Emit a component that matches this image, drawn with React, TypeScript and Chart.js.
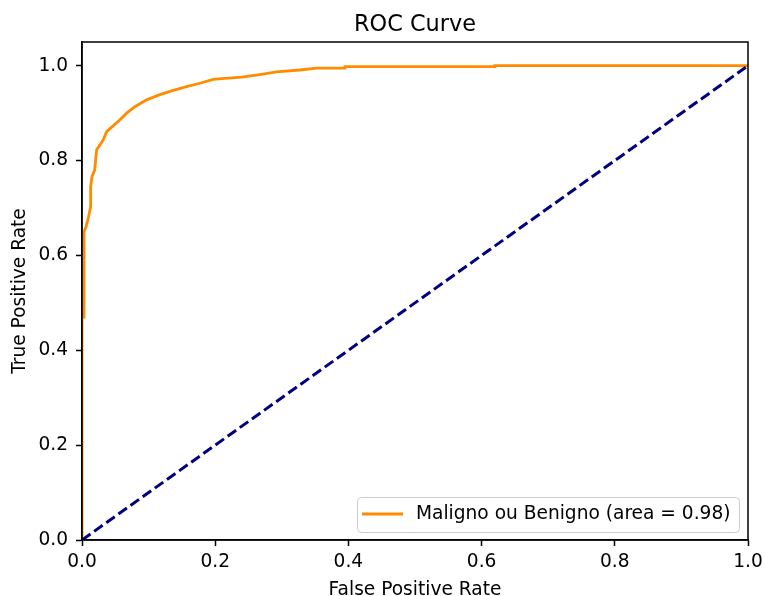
import React, { useEffect, useRef } from "react";
import { Chart, registerables } from "chart.js";

Chart.register(...registerables);

const TITLE = "ROC Curve";
const X_TITLE = "False Positive Rate";
const Y_TITLE = "True Positive Rate";
const SERIES_LABEL = "Maligno ou Benigno (area = 0.98)";

const fpr = [0, 0, 0.003, 0.003, 0.006, 0.01, 0.013, 0.013, 0.015, 0.019, 0.022, 0.027, 0.032, 0.037, 0.045, 0.057, 0.067, 0.08, 0.097, 0.117, 0.137, 0.157, 0.177, 0.197, 0.21, 0.24, 0.267, 0.292, 0.327, 0.352, 0.395, 0.395, 0.62, 0.62, 1.0];
const tpr = [0, 0.47, 0.47, 0.65, 0.66, 0.682, 0.703, 0.745, 0.766, 0.78, 0.823, 0.833, 0.844, 0.861, 0.871, 0.886, 0.9, 0.914, 0.928, 0.939, 0.948, 0.956, 0.963, 0.971, 0.973, 0.976, 0.981, 0.987, 0.991, 0.995, 0.995, 0.998, 0.998, 1.0, 1.0];

const diagX = [0, 1];
const diagY = [0, 1];

const xTicks = [0, 0.2, 0.4, 0.6, 0.8, 1.0];
const yTicks = [0, 0.2, 0.4, 0.6, 0.8, 1.0];

const FONT = "'DejaVu Sans', sans-serif";
const TICK_SIZE = 18.6;
const TITLE_SIZE = 22.4;

export default function App() {
  const ref = useRef<HTMLCanvasElement>(null);

  useEffect(() => {
    const canvas = ref.current;
    if (!canvas) return;

    const decor = {
      id: "decor",
      afterDraw(chart: any) {
        const { ctx, chartArea } = chart;
        const { left, right, top, bottom } = chartArea;
        ctx.save();
        // frame
        ctx.strokeStyle = "#000";
        ctx.lineWidth = 1.5;
        ctx.strokeRect(left, top, right - left, bottom - top);
        // title
        ctx.fillStyle = "#000";
        ctx.font = `${TITLE_SIZE}px ${FONT}`;
        ctx.textAlign = "center";
        ctx.textBaseline = "alphabetic";
        ctx.fillText(TITLE, (left + right) / 2, 31);
        // legend
        const bx = 357, by = 497, bw = 382, bh = 35;
        ctx.beginPath();
        (ctx as any).roundRect(bx + 0.5, by + 0.5, bw, bh, 4);
        ctx.fillStyle = "rgba(255,255,255,0.8)";
        ctx.fill();
        ctx.strokeStyle = "#cccccc";
        ctx.lineWidth = 1;
        ctx.stroke();
        ctx.beginPath();
        ctx.strokeStyle = "#ff8c00";
        ctx.lineWidth = 2.8;
        ctx.moveTo(362, 514);
        ctx.lineTo(403, 514);
        ctx.stroke();
        ctx.fillStyle = "#000";
        ctx.font = `${TICK_SIZE}px ${FONT}`;
        ctx.textAlign = "left";
        ctx.textBaseline = "middle";
        ctx.fillText(SERIES_LABEL, 416, 514);
        ctx.restore();
      },
    };

    const chart = new Chart(canvas, {
      type: "line",
      data: {
        datasets: [
          {
            label: "diag",
            data: diagX.map((x, i) => ({ x, y: diagY[i] })),
            borderColor: "#000080",
            borderWidth: 3,
            borderDash: [10.4, 4.5],
            pointRadius: 0,
            fill: false,
            order: 0,
          },
          {
            label: SERIES_LABEL,
            data: fpr.map((x, i) => ({ x, y: tpr[i] })),
            borderColor: "#ff8c00",
            borderWidth: 2.8,
            pointRadius: 0,
            fill: false,
            tension: 0,
            order: 1,
          },
        ],
      },
      options: {
        animation: false,
        responsive: false,
        devicePixelRatio: 1,
        layout: { padding: { top: 42, right: 17, left: 0, bottom: 0 } },
        plugins: {
          legend: { display: false },
          title: { display: false },
          tooltip: { enabled: false },
        },
        scales: {
          x: {
            type: "linear",
            min: 0,
            max: 1,
            afterFit: (s: any) => {
              s.height = 56;
              s.paddingRight = 0;
            },
            afterBuildTicks: (s: any) => {
              s.ticks = xTicks.map((v) => ({ value: v }));
            },
            ticks: {
              color: "#000",
              font: { family: FONT, size: TICK_SIZE },
              padding: 5,
              maxRotation: 0,
              autoSkip: false,
              callback: (v: any) => Number(v).toFixed(1),
            },
            grid: {
              display: true,
              drawOnChartArea: false,
              drawTicks: true,
              tickLength: 6,
              tickWidth: 1.5,
              tickColor: "#000",
            },
            border: { display: true, color: "#000", width: 1.5 },
            title: {
              display: true,
              text: X_TITLE,
              color: "#000",
              font: { family: FONT, size: TICK_SIZE },
              padding: { top: 0, bottom: -5 },
            },
          },
          y: {
            type: "linear",
            min: 0,
            max: 1.05,
            afterFit: (s: any) => {
              s.width = 82;
            },
            afterBuildTicks: (s: any) => {
              s.ticks = yTicks.map((v) => ({ value: v }));
            },
            ticks: {
              color: "#000",
              font: { family: FONT, size: TICK_SIZE },
              padding: 8,
              autoSkip: false,
              callback: (v: any) => Number(v).toFixed(1),
            },
            grid: {
              display: true,
              drawOnChartArea: false,
              drawTicks: true,
              tickLength: 6,
              tickWidth: 1.5,
              tickColor: "#000",
            },
            border: { display: true, color: "#000", width: 1.5 },
            title: {
              display: true,
              text: Y_TITLE,
              color: "#000",
              font: { family: FONT, size: TICK_SIZE },
              padding: { top: 9, bottom: 0 },
            },
          },
        },
      },
      plugins: [decor],
    });

    return () => chart.destroy();
  }, []);

  return (
    <div style={{ position: "absolute", left: 0, top: 0, width: 765, height: 596, background: "#fff" }}>
      <canvas ref={ref} width={765} height={596} />
    </div>
  );
}
